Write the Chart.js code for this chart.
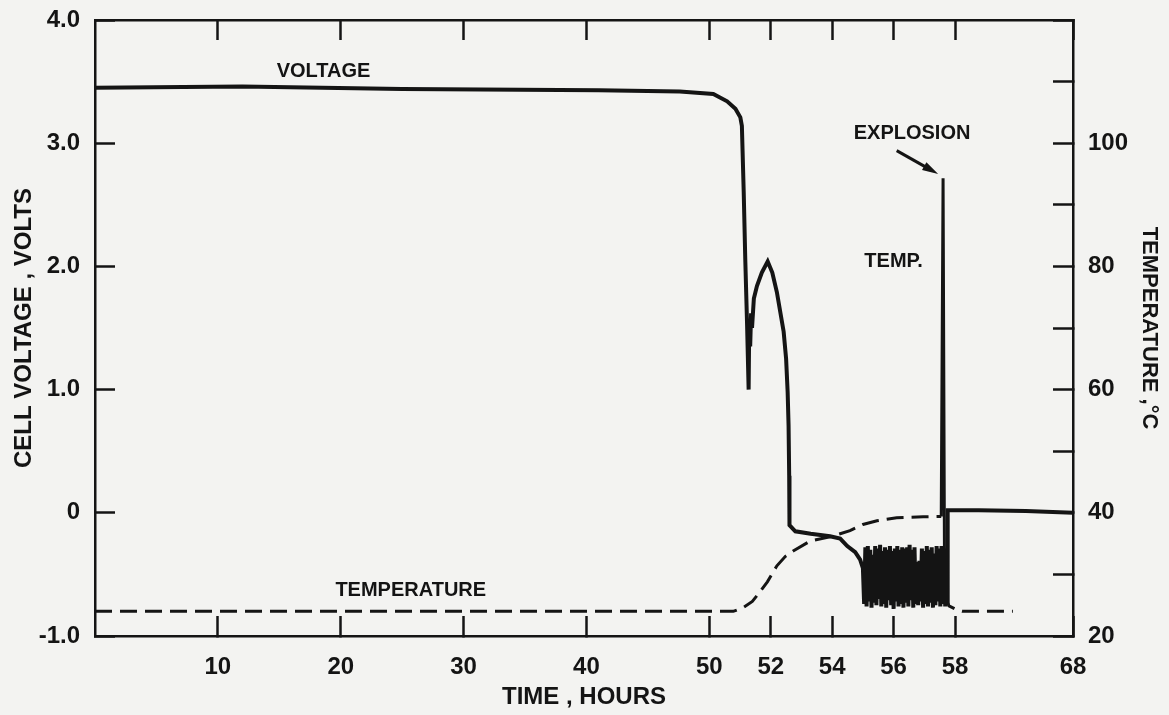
<!DOCTYPE html>
<html>
<head>
<meta charset="utf-8">
<script src="https://cdn.jsdelivr.net/npm/chart.js@4.4.0/dist/chart.umd.min.js"></script>
<style>
  html, body { margin: 0; padding: 0; background: #f3f3f1; }
  canvas { display: block; }
</style>
</head>
<body>
<canvas id="chart" width="1169" height="715"></canvas>
<script>
// tick labels
const timeTicks = [10, 20, 30, 40, 50, 52, 54, 56, 58, 68];
const tempLabels = [20, 40, 60, 80, 100];

// cell voltage (V) against time (h)
const voltHours = [0, 12, 25, 41, 47.6, 50.13, 50.58, 50.85, 51.01, 51.06, 51.12, 51.17, 51.23, 51.28,
  51.30, 51.33, 51.36, 51.39, 51.45, 51.55, 51.71, 51.90, 52.05, 52.20, 52.31, 52.42, 52.50, 52.55,
  52.58, 52.60, 52.61, 52.80, 53.30, 53.93, 54.26, 54.49, 54.75, 54.91,
  55.00, 55.04, 55.08, 55.12, 55.16, 55.20, 55.24, 55.28, 55.32, 55.36, 55.40, 55.44, 55.48, 55.52,
  55.56, 55.60, 55.64, 55.68, 55.72, 55.76, 55.80, 55.84, 55.88, 55.92, 55.96, 56.00, 56.04, 56.08,
  56.12, 56.16, 56.20, 56.24, 56.28, 56.32, 56.36, 56.40, 56.44, 56.48, 56.52, 56.56, 56.60, 56.64,
  56.68, 56.72, 56.76, 56.80, 56.84, 56.88, 56.92, 56.96, 57.00, 57.04, 57.08, 57.12, 57.16, 57.20,
  57.24, 57.28, 57.32, 57.36, 57.40, 57.44, 57.48, 57.52, 57.56, 57.60, 57.64, 57.68, 57.72, 57.74,
  57.76, 60, 64, 68];
const voltValues = [3.45, 3.46, 3.44, 3.43, 3.42, 3.40, 3.34, 3.28, 3.21, 3.14, 2.60, 2.06, 1.52, 1.00,
  1.55, 1.35, 1.62, 1.50, 1.74, 1.84, 1.95, 2.04, 1.95, 1.79, 1.63, 1.47, 1.25, 0.98,
  0.71, 0.30, -0.10, -0.15, -0.17, -0.19, -0.21, -0.27, -0.32, -0.38,
  -0.45, -0.74, -0.28, -0.76, -0.27, -0.72, -0.30, -0.77, -0.34, -0.73, -0.27, -0.75, -0.29, -0.70,
  -0.26, -0.76, -0.31, -0.74, -0.28, -0.77, -0.30, -0.71, -0.27, -0.75, -0.31, -0.78, -0.29, -0.72,
  -0.27, -0.76, -0.30, -0.74, -0.28, -0.77, -0.29, -0.73, -0.28, -0.76, -0.26, -0.71, -0.30, -0.77,
  -0.28, -0.74, -0.40, -0.75, -0.39, -0.72, -0.29, -0.77, -0.31, -0.74, -0.27, -0.76, -0.30, -0.73,
  -0.28, -0.77, -0.33, -0.75, -0.27, -0.72, -0.29, -0.76, -0.27, -0.74, -0.29, -0.76, -0.30, -0.73,
  0.02, 0.02, 0.015, 0.0];

// temperature (deg C) against time (h)
const tempHours = [0, 50.78, 51.1, 51.4, 51.56, 51.89, 52.2, 52.47, 52.73, 53.28, 53.93, 54.26, 54.58,
  55.0, 55.46, 56.1, 56.96, 57.55, 57.61, 57.66, 57.8, 58.2, 58.6, 62.9];
const tempValues = [24, 24, 24.6, 25.6, 26.6, 28.8, 31.4, 32.9, 33.8, 35.4, 36.1, 36.6, 37.1,
  38.1, 38.7, 39.2, 39.35, 39.4, 94.3, 26.5, 24.9, 24.2, 24, 24];

// the time axis is stretched between 50 and 58 h
const hourBreaks = [0, 50, 58, 68];
const axisBreaks = [0, 50, 70, 79.6];
function toAxis(h) {
  for (let i = 1; i < hourBreaks.length; i++) {
    if (h <= hourBreaks[i] || i === hourBreaks.length - 1) {
      const t = (h - hourBreaks[i - 1]) / (hourBreaks[i] - hourBreaks[i - 1]);
      return axisBreaks[i - 1] + t * (axisBreaks[i] - axisBreaks[i - 1]);
    }
  }
}

const notes = [
  { text: 'VOLTAGE', hour: 18.6, volt: 3.58 },
  { text: 'TEMPERATURE', hour: 25.7, volt: -0.63 },
  { text: 'TEMP.', hour: 56.0, volt: 2.04 },
  { text: 'EXPLOSION', hour: 56.6, volt: 3.08 }
];
const arrow = { from: [56.1, 2.94], to: [57.45, 2.75] };

const INK = '#141414';
const FONT = '"Liberation Sans", Arial, sans-serif';

const notesPlugin = {
  id: 'notes',
  afterDatasetsDraw(chart) {
    const { ctx, scales } = chart;
    const x = scales.x, y = scales.y;
    ctx.save();
    ctx.fillStyle = INK;
    ctx.strokeStyle = INK;
    ctx.font = 'bold 20px ' + FONT;
    ctx.textAlign = 'center';
    ctx.textBaseline = 'middle';
    notes.forEach(n => {
      ctx.fillText(n.text, x.getPixelForValue(toAxis(n.hour)), y.getPixelForValue(n.volt));
    });
    const x0 = x.getPixelForValue(toAxis(arrow.from[0])), y0 = y.getPixelForValue(arrow.from[1]);
    const x1 = x.getPixelForValue(toAxis(arrow.to[0])), y1 = y.getPixelForValue(arrow.to[1]);
    const a = Math.atan2(y1 - y0, x1 - x0);
    ctx.lineWidth = 3;
    ctx.beginPath();
    ctx.moveTo(x0, y0);
    ctx.lineTo(x1 - 10 * Math.cos(a), y1 - 10 * Math.sin(a));
    ctx.stroke();
    ctx.beginPath();
    ctx.moveTo(x1, y1);
    ctx.lineTo(x1 - 16 * Math.cos(a) + 4.5 * Math.sin(a), y1 - 16 * Math.sin(a) - 4.5 * Math.cos(a));
    ctx.lineTo(x1 - 16 * Math.cos(a) - 4.5 * Math.sin(a), y1 - 16 * Math.sin(a) + 4.5 * Math.cos(a));
    ctx.closePath();
    ctx.fill();
    ctx.restore();
  }
};

const inward = { display: true, drawOnChartArea: false, drawTicks: true, tickLength: -20, tickWidth: 2.5, color: INK };
const tickFont = { family: FONT, size: 24, weight: 'bold' };
const titleFont = { family: FONT, size: 24, weight: 'bold' };
const frame = { display: true, color: INK, width: 2.5 };

// keep the label padding from pushing the plot frame inwards
function fixY(width) {
  return s => { s.width = width; s.paddingTop = 12; s.paddingBottom = 12; };
}

new Chart(document.getElementById('chart'), {
  type: 'line',
  data: {
    datasets: [
      {
        label: 'VOLTAGE',
        data: voltHours.map((h, i) => ({ x: toAxis(h), y: voltValues[i] })),
        yAxisID: 'y',
        borderColor: INK,
        borderWidth: 4,
        pointRadius: 0,
        tension: 0
      },
      {
        label: 'TEMPERATURE',
        data: tempHours.map((h, i) => ({ x: toAxis(h), y: tempValues[i] })),
        yAxisID: 'y2',
        borderColor: INK,
        borderWidth: 3,
        borderDash: [17, 8],
        pointRadius: 0,
        tension: 0,
        segment: {
          borderDash: c => Math.abs(c.p1.parsed.y - c.p0.parsed.y) > 10 ? [] : [17, 8]
        }
      }
    ]
  },
  options: {
    responsive: false,
    animation: false,
    devicePixelRatio: 1,
    layout: { padding: { top: 20, right: 0, bottom: 0, left: 0 } },
    plugins: { legend: { display: false }, tooltip: { enabled: false } },
    scales: {
      x: {
        type: 'linear',
        position: 'bottom',
        min: 0,
        max: axisBreaks[axisBreaks.length - 1],
        afterBuildTicks: s => { s.ticks = timeTicks.map(h => ({ value: toAxis(h) })); },
        afterFit: s => { s.height = 79; s.paddingLeft = 0; s.paddingRight = 0; },
        grid: inward,
        border: frame,
        ticks: {
          color: INK, font: tickFont, padding: 37, maxRotation: 0, autoSkip: false,
          callback: (v, i) => timeTicks[i]
        },
        title: { display: true, text: 'TIME , HOURS', color: INK, font: titleFont, padding: { top: 0, bottom: 3 } }
      },
      xTop: {
        type: 'linear',
        position: 'top',
        min: 0,
        max: axisBreaks[axisBreaks.length - 1],
        afterBuildTicks: s => { s.ticks = timeTicks.map(h => ({ value: toAxis(h) })); },
        afterFit: s => { s.height = 0; s.paddingLeft = 0; s.paddingRight = 0; },
        grid: inward,
        border: frame,
        ticks: { display: false }
      },
      y: {
        type: 'linear',
        position: 'left',
        min: -1,
        max: 4,
        afterFit: fixY(95),
        grid: inward,
        border: frame,
        ticks: {
          stepSize: 1, color: INK, font: tickFont, padding: 35,
          callback: v => v === 0 ? '0' : v.toFixed(1)
        },
        title: { display: true, text: 'CELL VOLTAGE , VOLTS', color: INK, font: titleFont, padding: { top: 10, bottom: 0 } }
      },
      y2: {
        type: 'linear',
        position: 'right',
        min: 20,
        max: 120,
        afterFit: fixY(96),
        grid: inward,
        border: frame,
        ticks: {
          stepSize: 10, color: INK, font: tickFont, padding: 35,
          callback: v => tempLabels.includes(v) ? String(v) : ''
        },
        title: { display: true, text: 'TEMPERATURE ,°C', color: INK, font: { family: FONT, size: 22, weight: 'bold' }, padding: { top: 7, bottom: 0 } }
      }
    }
  },
  plugins: [notesPlugin]
});
</script>
</body>
</html>
